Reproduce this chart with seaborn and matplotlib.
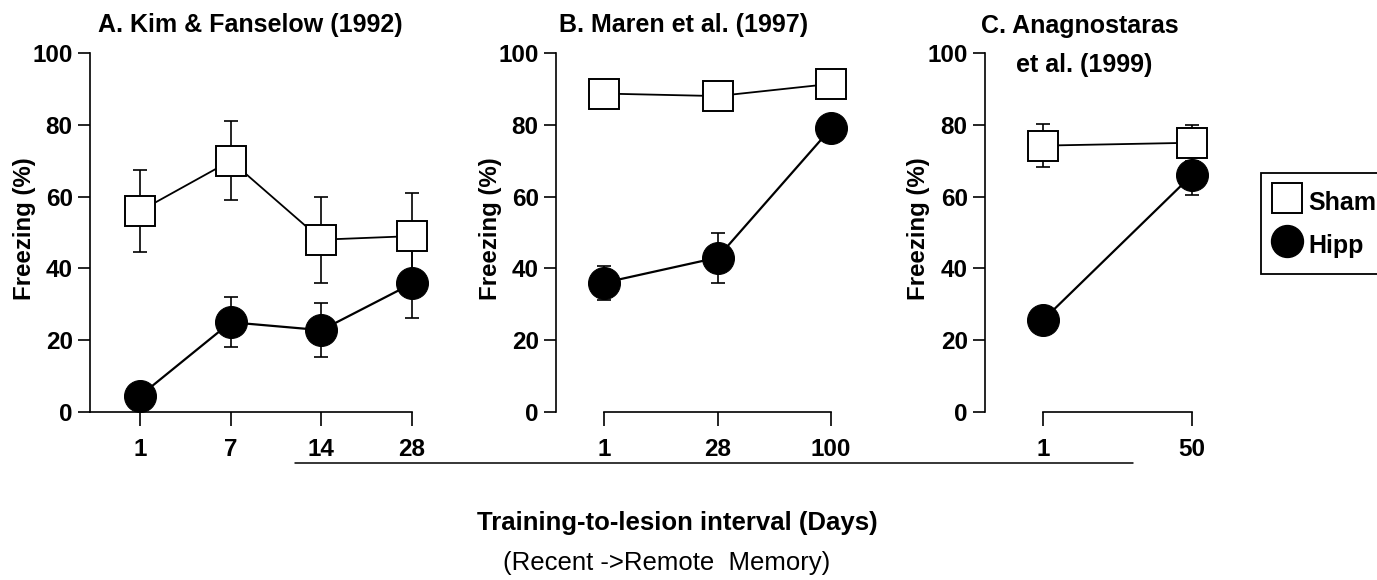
import numpy as np
import matplotlib.pyplot as plt
from matplotlib.lines import Line2D
import seaborn as sns

# 数据（从原图读取的冻结百分比与误差）
days_a = ["1", "7", "14", "28"]
sham_a = [56, 70, 48, 49]
sham_a_err = [11.5, 11, 12, 12]
hipp_a = [4.5, 25, 22.8, 35.8]
hipp_a_err = [0, 7, 7.6, 9.5]

days_b = ["1", "28", "100"]
sham_b = [88.7, 88, 91.4]
sham_b_err = [0, 0, 0]
hipp_b = [36, 43, 79]
hipp_b_err = [4.8, 7, 0]

days_c = ["1", "50"]
sham_c = [74.2, 75]
sham_c_err = [6, 5]
hipp_c = [25.6, 66]
hipp_c_err = [0, 5.5]

titles = ["A. Kim & Fanselow (1992)", "B. Maren et al. (1997)", "C. Anagnostaras\net al. (1999)"]

W, H = 1377, 580
TOP, BOTTOM = 53, 412
TICK_FS = 17.5
TITLE_FS = 18


def draw_panel(fig, yaxis_px, tick0_px, step_px, days, sham, sham_err, hipp, hipp_err, full_bottom):
    n = len(days)
    right_px = tick0_px + (n - 1) * step_px + 30
    ax = fig.add_axes([yaxis_px / W, 1 - BOTTOM / H, (right_px - yaxis_px) / W, (BOTTOM - TOP) / H])
    pos = np.arange(n)
    left_lim = -(tick0_px - yaxis_px) / step_px
    ax.set_xlim(left_lim, n - 1 + 30 / step_px)
    ax.set_ylim(0, 100)

    # 误差线放在最底层
    ax.errorbar(pos, hipp, yerr=hipp_err, fmt="none", ecolor="black", elinewidth=1.2,
                capsize=5, capthick=1.2, zorder=2, clip_on=False)
    ax.errorbar(pos, sham, yerr=sham_err, fmt="none", ecolor="black", elinewidth=1.2,
                capsize=5, capthick=1.2, zorder=2, clip_on=False)

    sns.lineplot(x=pos, y=hipp, ax=ax, color="black", marker="o", markersize=23,
                 markerfacecolor="black", markeredgecolor="black", linewidth=1.6,
                 clip_on=False, zorder=3)
    sns.lineplot(x=pos, y=sham, ax=ax, color="black", marker="s", markersize=22,
                 markerfacecolor="white", markeredgecolor="black", markeredgewidth=1.4,
                 linewidth=1.3, clip_on=False, zorder=4)

    ax.set_xticks(pos)
    ax.set_xticklabels(days)
    ax.set_yticks(range(0, 101, 20))
    ax.tick_params(axis="y", length=9, width=1.2, labelsize=TICK_FS, pad=3.5)
    ax.tick_params(axis="x", length=10, width=1.2, labelsize=TICK_FS, pad=9)
    for lab in ax.get_xticklabels() + ax.get_yticklabels():
        lab.set_fontweight("bold")

    for side in ["top", "right"]:
        ax.spines[side].set_visible(False)
    for side in ["left", "bottom"]:
        ax.spines[side].set_linewidth(1.2)
    ax.spines["left"].set_bounds(0, 100)
    ax.spines["bottom"].set_bounds(left_lim if full_bottom else 0, n - 1)

    ax.set_ylabel("Freezing (%)", fontsize=17.3, fontweight="bold")
    ax.yaxis.label.set_va("center")
    ax.yaxis.set_label_coords(-66 / (right_px - yaxis_px), 0.51)
    ax.set_xlabel("")
    return ax


sns.set_style("ticks", {"axes.edgecolor": "black", "xtick.color": "black", "ytick.color": "black",
                        "text.color": "black", "axes.labelcolor": "black"})
plt.rcParams["font.family"] = ["Liberation Sans", "DejaVu Sans"]

fig = plt.figure(figsize=(W / 100, H / 100), dpi=100)

draw_panel(fig, 90, 140, 90.7, days_a, sham_a, sham_a_err, hipp_a, hipp_a_err, True)
draw_panel(fig, 556, 604, 113.5, days_b, sham_b, sham_b_err, hipp_b, hipp_b_err, False)
draw_panel(fig, 985, 1043, 149, days_c, sham_c, sham_c_err, hipp_c, hipp_c_err, False)

# 标题
fig.text(250 / W, 1 - 25 / H, titles[0], ha="center", va="center", fontsize=TITLE_FS, fontweight="bold")
fig.text(684 / W, 1 - 25 / H, titles[1], ha="center", va="center", fontsize=TITLE_FS, fontweight="bold")
c1, c2 = titles[2].split("\n")
fig.text(1080 / W, 1 - 26 / H, c1, ha="center", va="center", fontsize=TITLE_FS, fontweight="bold")
fig.text(1084 / W, 1 - 65 / H, c2, ha="center", va="center", fontsize=TITLE_FS, fontweight="bold")

# 图例
handles = [
    Line2D([], [], linestyle="none", marker="s", markersize=22, markerfacecolor="white",
           markeredgecolor="black", markeredgewidth=1.4),
    Line2D([], [], linestyle="none", marker="o", markersize=23, markerfacecolor="black",
           markeredgecolor="black"),
]
leg = fig.legend(handles, ["Sham", "Hipp"], loc="upper left",
                 bbox_to_anchor=(1261 / W, 1 - 173 / H), frameon=True, fancybox=False,
                 edgecolor="black", framealpha=1, handlelength=1.1, handleheight=1.6,
                 handletextpad=0.3, borderpad=0.5, labelspacing=0.45, borderaxespad=0,
                 prop={"weight": "bold", "size": 18})
leg.get_frame().set_linewidth(1.3)

# 公共横轴说明
fig.add_artist(Line2D([295 / W, 1133 / W], [1 - 463 / H, 1 - 463 / H], color="black", linewidth=1.1))
fig.text(677 / W, 1 - 523 / H, "Training-to-lesion interval (Days)", ha="center", va="center",
         fontsize=18.5, fontweight="bold")
fig.text(667 / W, 1 - 563 / H, "(Recent ->Remote  Memory)", ha="center", va="center",
         fontsize=18.5, fontweight="normal")

fig.savefig("out.png", dpi=100)
plt.close(fig)
